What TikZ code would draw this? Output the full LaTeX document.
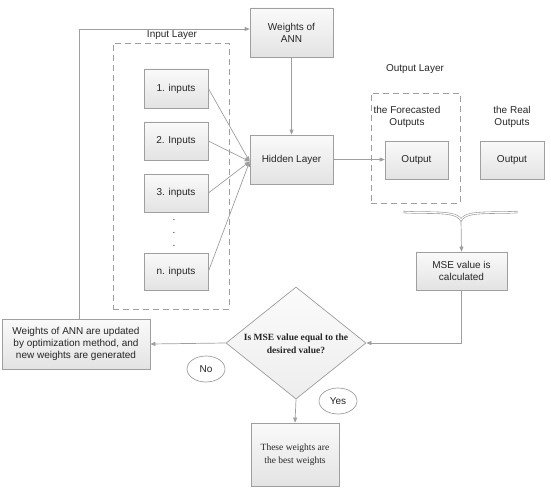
\documentclass[tikz,border=0pt]{standalone}
\usepackage{fontspec}
\setmainfont{Liberation Sans}
\newfontfamily\serifx{Liberation Serif}
\usetikzlibrary{arrows.meta,shapes.geometric,shadows}
\begin{document}
\begin{tikzpicture}[x=1pt,y=-1pt,
  line/.style={draw=gray!75, line width=0.7pt},
  arr/.style={line, -{Triangle[length=5pt,width=4pt]}},
  box/.style={draw=gray!75, line width=0.7pt, top color=gray!4, bottom color=gray!22,
    drop shadow={shadow xshift=1pt, shadow yshift=-1pt, opacity=0.25},
    align=center, inner sep=1pt, font=\fontsize{10}{12}\selectfont, text=black!85},
  dashbox/.style={draw=gray!75, line width=0.7pt, dash pattern=on 6pt off 4pt},
  lbl/.style={font=\fontsize{10}{12}\selectfont, text=black!85, align=center, inner sep=0pt},
  oval/.style={ellipse, draw=gray!75, line width=0.7pt, fill=white, minimum width=38pt, minimum height=26pt, inner sep=0pt, font=\fontsize{10}{12}\selectfont, text=black!85}
]
\useasboundingbox (0,0) rectangle (551,492);

% dashed groups
\node[dashbox, minimum width=116pt, minimum height=266pt, inner sep=0pt] (ingrp) at (171,176) {};
\node[dashbox, minimum width=89pt, minimum height=110pt, inner sep=0pt] (outgrp) at (415.5,148) {};

\node[lbl] (inlbl) at (172,35) {Input Layer};
\node[lbl] (outlbl) at (415,69) {Output Layer};

% boxes
\node[box, minimum width=83pt, minimum height=49pt] (wts) at (291.5,32.5) {Weights of\\ANN};
\node[box, minimum width=83pt, minimum height=49pt] (hid) at (291.5,159.5) {Hidden Layer};

\node[box, minimum width=64pt, minimum height=39pt] (in1) at (176,88.5) {1. inputs};
\node[box, minimum width=64pt, minimum height=38pt] (in2) at (176,141) {2. Inputs};
\node[box, minimum width=64pt, minimum height=38pt] (in3) at (176,193) {3. inputs};
\node[box, minimum width=64pt, minimum height=37pt] (inn) at (176,271.5) {n. inputs};

\node[lbl] (d1) at (174,220) {.};
\node[lbl] (d2) at (174,233) {.};
\node[lbl] (d3) at (174,246) {.};

\node[lbl] (fclbl) at (407,117) {the Forecasted\\Outputs};
\node[lbl] (rllbl) at (512,117) {the Real\\Outputs};
\node[box, minimum width=63pt, minimum height=38pt] (fout) at (416.5,160) {Output};
\node[box, minimum width=64pt, minimum height=38pt] (rout) at (512,160) {Output};

\node[box, minimum width=91pt, minimum height=38pt] (mse) at (461.5,271) {MSE value is\\calculated};

\node[diamond, draw=gray!75, line width=0.7pt, top color=gray!3, bottom color=gray!14,
  minimum width=140pt, minimum height=112pt, inner sep=0pt] (dia) at (296,343) {};
\node[lbl, font=\serifx\bfseries\fontsize{9.5}{12.5}\selectfont] (diatxt) at (296,344) {Is MSE value equal to the\\desired value?};

\node[box, minimum width=148pt, minimum height=50pt] (upd) at (76,344) {Weights of ANN are updated\\by optimization method, and\\new weights are generated};

\node[box, minimum width=88pt, minimum height=63pt, font=\serifx\fontsize{9.5}{12.5}\selectfont] (best) at (295,454.5) {These weights are\\the best weights};

\node[oval] (no) at (206,369) {No};
\node[oval] (yes) at (338,401) {Yes};

% brace
\coordinate (bl) at (403,212);
\coordinate (br) at (518,212);
\coordinate (btip) at (461,220);
\draw[draw=gray!80, double=white, double distance=1.1pt, line width=0.6pt]
  (bl) .. controls (420,213) and (440,212) .. (450,214)
  .. controls (456,215) and (459,217) .. (btip)
  .. controls (463,217) and (466,215) .. (472,214)
  .. controls (482,212) and (502,213) .. (br);

% connectors
\coordinate (conv) at ([yshift=-2pt]hid.west);
\draw[arr] (in1.east) -- (conv);
\draw[arr] (in2.east) -- (conv);
\draw[arr] (in3.east) -- (conv);
\draw[arr] (inn.east) -- (conv);
\draw[arr] (wts.south) -- (hid.north);
\draw[arr] (hid.east) -- (hid.east -| fout.west);
\draw[arr] (btip) -- (mse.north);
\draw[arr] (mse.south) |- (dia.east);
\draw[arr] (dia.west) -- (upd.east);
\draw[arr] (dia.south) -- (best.north);
\coordinate (loopb) at ([xshift=3pt]upd.north);
\draw[arr] (loopb) -- (loopb |- 0,29) -- (wts.west |- 0,29);
\end{tikzpicture}
\end{document}
